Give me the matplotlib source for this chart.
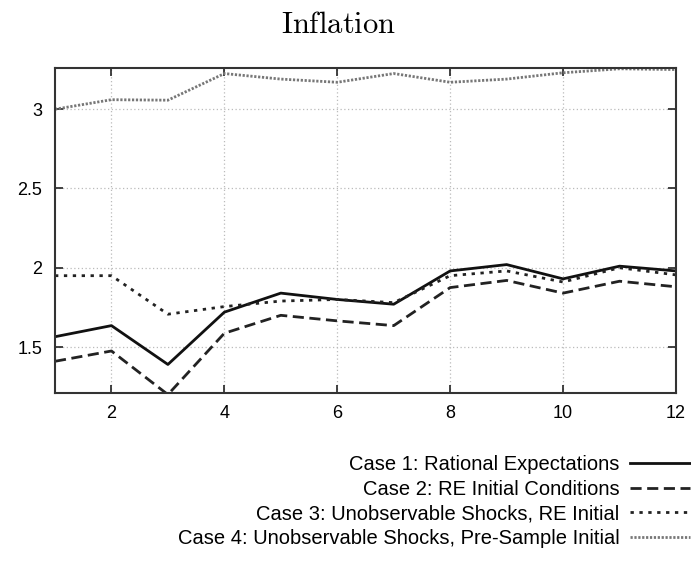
import matplotlib
matplotlib.use("Agg")
import matplotlib.pyplot as plt

horizon = [1, 2, 3, 4, 5, 6, 7, 8, 9, 10, 11, 12]
case1 = [1.565, 1.635, 1.39, 1.72, 1.84, 1.80, 1.77, 1.98, 2.02, 1.93, 2.01, 1.98]
case2 = [1.41, 1.475, 1.20, 1.587, 1.70, 1.665, 1.635, 1.875, 1.92, 1.84, 1.915, 1.88]
case3 = [1.95, 1.95, 1.707, 1.755, 1.79, 1.80, 1.78, 1.95, 1.98, 1.91, 2.0, 1.955]
case4 = [3.0, 3.06, 3.057, 3.225, 3.19, 3.17, 3.225, 3.17, 3.19, 3.23, 3.255, 3.25]
labels = ["Case 1: Rational Expectations",
          "Case 2: RE Initial Conditions",
          "Case 3: Unobservable Shocks, RE Initial",
          "Case 4: Unobservable Shocks, Pre-Sample Initial"]
xticks = [2, 4, 6, 8, 10, 12]
yticks = [1.5, 2.0, 2.5, 3.0]
yticklabels = ["1.5", "2", "2.5", "3"]

plt.rcParams['font.family'] = ['Liberation Sans', 'DejaVu Sans']
plt.rcParams['mathtext.fontset'] = 'cm'

fig = plt.figure(figsize=(6.91, 5.62), dpi=100)
ax = fig.add_axes([55/691, 1-393/562, (676-55)/691, (393-68)/562])

ax.plot(horizon, case1, color='#111111', lw=2.0, ls='-', label=labels[0])
ax.plot(horizon, case2, color='#222222', lw=2.0, ls=(0, (4, 2)), label=labels[1])
ax.plot(horizon, case3, color='#222222', lw=2.0, ls=(0, (1.2, 2)), label=labels[2])
ax.plot(horizon, case4, color='#777777', lw=2.0, ls=(0, (0.8, 0.6)), label=labels[3])

ax.set_xlim(1, 12)
ax.set_ylim(1.21, 3.26)
ax.set_xticks(xticks)
ax.set_yticks(yticks)
ax.set_yticklabels(yticklabels)
ax.tick_params(direction='in', top=True, right=True, length=6, width=1.2,
               labelsize=13, pad=9, color='#222222')
ax.grid(True, color='#bbbbbb', ls=(0, (1, 2)), lw=0.9)
for s in ax.spines.values():
    s.set_linewidth(1.5)
    s.set_color('#333333')

fig.text(339/691, 1-25/562, r'$\mathrm{Inflation}$', fontsize=22,
         ha='center', va='center')

leg = fig.legend(loc='upper right', bbox_to_anchor=(690/691, 1-455/562),
                 frameon=False, markerfirst=False, fontsize=14.5,
                 handlelength=3.0, handletextpad=0.5, labelspacing=0.28,
                 borderaxespad=0, borderpad=0)
for t in leg.get_texts():
    t.set_ha('right')

fig.savefig('out.png', dpi=100)
